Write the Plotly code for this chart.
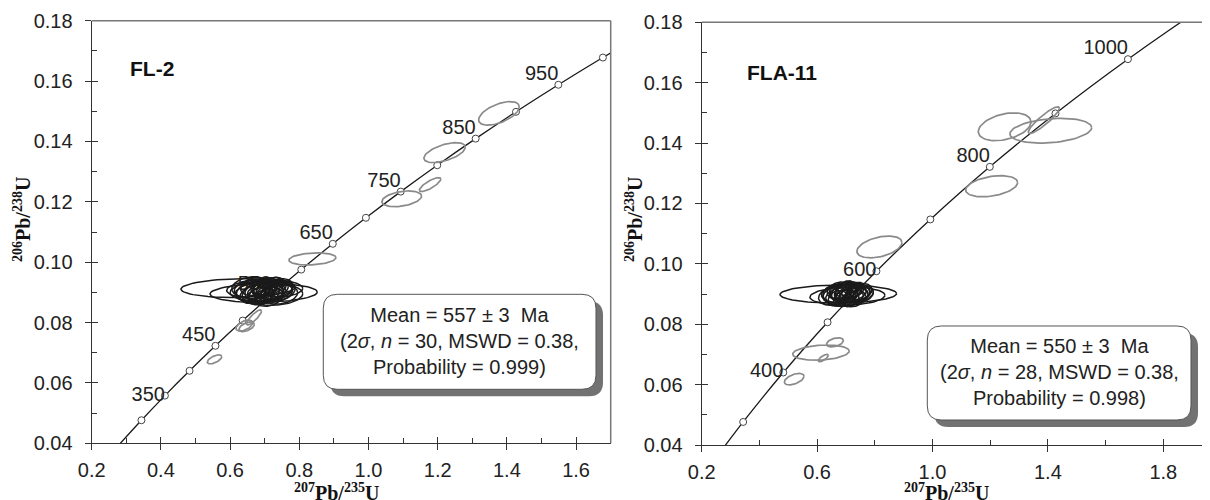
import numpy as np
import plotly.graph_objects as go

# page body adds an 8px offset; figure sized to fit the 1210x500 window
OFF = 8
W, H = 1210 - OFF, 500 - OFF

# ---------------- data ----------------
# Concordia reference points (age Ma, 207Pb/235U, 206Pb/238U)
CONC_AGE = [250, 300, 350, 400, 450, 500, 550, 600, 650, 700, 750, 800, 850, 900, 950, 1000, 1050, 1100]
CONC_X = [0.27917, 0.34374, 0.41156, 0.48281, 0.55766, 0.63628, 0.71888, 0.80563, 0.89677,
          0.99251, 1.09308, 1.19873, 1.30971, 1.42630, 1.54876, 1.67741, 1.81255, 1.95452]
CONC_Y = [0.039543, 0.047637, 0.055795, 0.064016, 0.072300, 0.080650, 0.089064, 0.097544, 0.106090,
          0.114702, 0.123381, 0.132126, 0.140940, 0.149821, 0.158771, 0.167790, 0.176879, 0.186038]

FL2_MARK_AGES = [300, 350, 400, 450, 500, 550, 600, 650, 700, 750, 800, 850, 900, 950, 1000]
FL2_LABEL_AGES = [350, 450, 550, 650, 750, 850, 950]
FLA11_MARK_AGES = [300, 400, 500, 600, 700, 800, 900, 1000]
FLA11_LABEL_AGES = [400, 600, 800, 1000]

# FL-2 concordant analyses (black): x, 2s x, y, 2s y, rho
FL2_X = [0.623, 0.697, 0.690, 0.672, 0.705, 0.715, 0.680, 0.728, 0.660, 0.742, 0.698, 0.688, 0.720, 0.655, 0.735,
         0.705, 0.675, 0.750, 0.712, 0.665, 0.695, 0.725, 0.685, 0.730, 0.700, 0.745, 0.670, 0.708, 0.740, 0.690]
FL2_SX = [0.165, 0.155, 0.090, 0.060, 0.055, 0.048, 0.045, 0.052, 0.042, 0.040, 0.038, 0.036, 0.035, 0.050, 0.045,
          0.030, 0.032, 0.038, 0.042, 0.036, 0.028, 0.030, 0.070, 0.080, 0.110, 0.050, 0.040, 0.034, 0.028, 0.025]
FL2_Y = [0.0914, 0.0898, 0.0905, 0.0912, 0.0900, 0.0918, 0.0894, 0.0908, 0.0902, 0.0915, 0.0920, 0.0888, 0.0893, 0.0918, 0.0900,
         0.0910, 0.0906, 0.0905, 0.0885, 0.0893, 0.0915, 0.0922, 0.0900, 0.0891, 0.0910, 0.0893, 0.0920, 0.0895, 0.0912, 0.0910]
FL2_SY = [0.0031, 0.0031, 0.0033, 0.0032, 0.0034, 0.0031, 0.0033, 0.0032, 0.0031, 0.0030, 0.0029, 0.0030, 0.0029, 0.0033, 0.0031,
          0.0028, 0.0029, 0.0030, 0.0031, 0.0030, 0.0027, 0.0028, 0.0034, 0.0034, 0.0032, 0.0032, 0.0030, 0.0029, 0.0027, 0.0026]
FL2_RHO = [0.10, 0.10, 0.15, 0.20, 0.20, 0.25, 0.20, 0.20, 0.25, 0.25, 0.30, 0.25, 0.30, 0.20, 0.20,
           0.30, 0.30, 0.25, 0.25, 0.25, 0.35, 0.30, 0.15, 0.15, 0.10, 0.20, 0.25, 0.30, 0.30, 0.35]

# FL-2 discordant / excluded analyses (grey)
FL2G_X = [1.377, 1.220, 1.178, 1.096, 0.838, 0.669, 0.641, 0.648, 0.555]
FL2G_SX = [0.0587, 0.0598, 0.031, 0.0573, 0.068, 0.0217, 0.024, 0.022, 0.0208]
FL2G_Y = [0.1493, 0.1363, 0.1257, 0.1210, 0.1011, 0.0817, 0.0790, 0.0786, 0.0678]
FL2G_SY = [0.0039, 0.0033, 0.0023, 0.0026, 0.0020, 0.0025, 0.0018, 0.0016, 0.0015]
FL2G_RHO = [0.55, 0.55, 0.80, 0.35, 0.20, 0.85, 0.50, 0.50, 0.60]

# FLA-11 concordant analyses (black)
FLA_X = [0.6735, 0.705, 0.700, 0.680, 0.715, 0.690, 0.725, 0.665, 0.740, 0.705, 0.695, 0.720, 0.675, 0.710,
         0.685, 0.730, 0.655, 0.750, 0.700, 0.715, 0.670, 0.735, 0.695, 0.720, 0.690, 0.745, 0.708, 0.760]
FLA_SX = [0.202, 0.130, 0.085, 0.060, 0.055, 0.048, 0.050, 0.045, 0.042, 0.040, 0.038, 0.035, 0.040, 0.032,
          0.035, 0.038, 0.050, 0.040, 0.028, 0.030, 0.032, 0.028, 0.065, 0.075, 0.026, 0.032, 0.045, 0.035]
FLA_Y = [0.0900, 0.0893, 0.0902, 0.0897, 0.0905, 0.0910, 0.0893, 0.0903, 0.0900, 0.0915, 0.0886, 0.0912, 0.0912, 0.0896,
         0.0905, 0.0885, 0.0893, 0.0908, 0.0920, 0.0883, 0.0886, 0.0915, 0.0891, 0.0902, 0.0895, 0.0893, 0.0908, 0.0900]
FLA_SY = [0.0030, 0.0030, 0.0032, 0.0031, 0.0030, 0.0029, 0.0030, 0.0030, 0.0028, 0.0027, 0.0027, 0.0026, 0.0028, 0.0025,
          0.0026, 0.0027, 0.0030, 0.0027, 0.0024, 0.0025, 0.0026, 0.0024, 0.0032, 0.0032, 0.0023, 0.0025, 0.0028, 0.0026]
FLA_RHO = [0.05, 0.10, 0.15, 0.20, 0.20, 0.25, 0.20, 0.20, 0.25, 0.25, 0.25, 0.30, 0.25, 0.30,
           0.30, 0.25, 0.20, 0.25, 0.30, 0.30, 0.30, 0.30, 0.15, 0.15, 0.35, 0.30, 0.20, 0.25]

# FLA-11 grey analyses
FLAG_X = [1.250, 1.410, 1.386, 1.205, 0.816, 0.6135, 0.662, 0.6215, 0.5206]
FLAG_SX = [0.0913, 0.1416, 0.0537, 0.090, 0.078, 0.098, 0.029, 0.0173, 0.034]
FLAG_Y = [0.1454, 0.1441, 0.1476, 0.1257, 0.1056, 0.0706, 0.0740, 0.0688, 0.0618]
FLAG_SY = [0.0046, 0.0041, 0.0044, 0.0035, 0.0036, 0.0025, 0.0015, 0.0012, 0.0019]
FLAG_RHO = [0.35, 0.25, 0.90, 0.35, 0.40, 0.20, 0.40, 0.70, 0.50]

PANEL_NAMES = ["FL-2", "FLA-11"]
BOX_TEXT = [
    "Mean = 557 ± 3  Ma<br>(2<i>σ</i>, <i>n</i> = 30, MSWD = 0.38,<br>Probability = 0.999)",
    "Mean = 550 ± 3  Ma<br>(2<i>σ</i>, <i>n</i> = 28, MSWD = 0.38,<br>Probability = 0.998)",
]
Y_TITLE = "<b><sup>206</sup>Pb/<sup>238</sup>U</b>"
X_TITLE = "<b><sup>207</sup>Pb/<sup>235</sup>U</b>"

# label placement style (per label)
FL2_LABEL_POS = ["middle left", "top left", "top left", "top left", "top left", "top left", "top left"]
FLA11_LABEL_POS = ["middle left", "middle left", "top left", "top left"]

# ---------------- helpers ----------------
def ellipse_paths(xs, sxs, ys, sys_, rhos, n=72):
    t = np.linspace(0, 2 * np.pi, n)
    ox, oy = [], []
    for cx, sx, cy, sy, r in zip(xs, sxs, ys, sys_, rhos):
        ex = cx + sx * np.cos(t)
        ey = cy + sy * (r * np.cos(t) + np.sqrt(1 - r * r) * np.sin(t))
        ox += list(ex) + [None]
        oy += list(ey) + [None]
    return ox, oy


def pick(ages):
    idx = [CONC_AGE.index(a) for a in ages]
    return [CONC_X[i] for i in idx], [CONC_Y[i] for i in idx]


def P(px, py):
    """screen pixel -> paper fraction"""
    return (px - OFF) / W, 1 - (py - OFF) / H


def rounded_path(x0, y0, x1, y1, r):
    pts = [
        ("M", [(x0 + r, y0)]), ("L", [(x1 - r, y0)]), ("Q", [(x1, y0), (x1, y0 + r)]),
        ("L", [(x1, y1 - r)]), ("Q", [(x1, y1), (x1 - r, y1)]), ("L", [(x0 + r, y1)]),
        ("Q", [(x0, y1), (x0, y1 - r)]), ("L", [(x0, y0 + r)]), ("Q", [(x0, y0), (x0 + r, y0)]),
    ]
    s = ""
    for cmd, ps in pts:
        s += cmd + " " + " ".join("%.5f,%.5f" % P(a, b) for a, b in ps) + " "
    return s + "Z"


SANS = "Liberation Sans, Arial, sans-serif"
TICKFONT = dict(family=SANS, size=20, color="#222")
BLACK = "#1a1a1a"
GREY = "#8a8a8a"

fig = go.Figure()

panels = [
    dict(xa="x", ya="y", mark=FL2_MARK_AGES, lab=FL2_LABEL_AGES, lpos=FL2_LABEL_POS,
         blk=(FL2_X, FL2_SX, FL2_Y, FL2_SY, FL2_RHO), gry=(FL2G_X, FL2G_SX, FL2G_Y, FL2G_SY, FL2G_RHO)),
    dict(xa="x2", ya="y2", mark=FLA11_MARK_AGES, lab=FLA11_LABEL_AGES, lpos=FLA11_LABEL_POS,
         blk=(FLA_X, FLA_SX, FLA_Y, FLA_SY, FLA_RHO), gry=(FLAG_X, FLAG_SX, FLAG_Y, FLAG_SY, FLAG_RHO)),
]

for p in panels:
    fig.add_trace(go.Scatter(x=CONC_X, y=CONC_Y, mode="lines", line=dict(color=BLACK, width=1.3, shape="spline"),
                             xaxis=p["xa"], yaxis=p["ya"], showlegend=False, hoverinfo="skip"))
    mx, my = pick(p["mark"])
    fig.add_trace(go.Scatter(x=mx, y=my, mode="markers",
                             marker=dict(symbol="circle", size=7, color="white", line=dict(color="#444", width=1)),
                             xaxis=p["xa"], yaxis=p["ya"], showlegend=False, hoverinfo="skip"))
    lx, ly = pick(p["lab"])
    fig.add_trace(go.Scatter(x=lx, y=ly, mode="text", text=[str(a) for a in p["lab"]], textposition=p["lpos"],
                             textfont=dict(family=SANS, size=20, color="#222"),
                             xaxis=p["xa"], yaxis=p["ya"], showlegend=False, hoverinfo="skip"))
    gx, gy = ellipse_paths(*p["gry"])
    fig.add_trace(go.Scatter(x=gx, y=gy, mode="lines", line=dict(color=GREY, width=1.7),
                             xaxis=p["xa"], yaxis=p["ya"], showlegend=False, hoverinfo="skip"))
    bx, by = ellipse_paths(*p["blk"])
    fig.add_trace(go.Scatter(x=bx, y=by, mode="lines", line=dict(color=BLACK, width=1.5),
                             xaxis=p["xa"], yaxis=p["ya"], showlegend=False, hoverinfo="skip"))

# empty traces for overlay (inner tick) axes
fig.add_trace(go.Scatter(x=[None], y=[None], xaxis="x3", yaxis="y3", showlegend=False, hoverinfo="skip"))
fig.add_trace(go.Scatter(x=[None], y=[None], xaxis="x4", yaxis="y4", showlegend=False, hoverinfo="skip"))

lx0, ly0 = P(91.7, 443.3)
lx1, ly1 = P(610.7, 20.7)
rx0, ry0 = P(701.7, 445.0)
rx1, ry1 = P(1210.0, 22.3)
L_DOM_X, L_DOM_Y = [lx0, lx1], [ly0, ly1]
R_DOM_X, R_DOM_Y = [rx0, min(rx1, 1.0)], [ry0, ry1]
L_RANGE_X = [0.2, 1.7]
R_RANGE_X = [0.2, 0.2 + (1210 - 701.7) / 288.5]
RANGE_Y = [0.04, 0.18]

def base_axis(**kw):
    d = dict(showline=True, linecolor="#333", linewidth=1.2, ticks="outside", ticklen=6, tickwidth=1.2,
             tickcolor="#333", showgrid=False, zeroline=False, tickfont=TICKFONT, ticklabelstandoff=3,
             automargin=False)
    d.update(kw)
    return d

def inner_axis(**kw):
    d = dict(showline=False, ticks="inside", ticklen=6, tickwidth=1.2, tickcolor="#333", showgrid=False,
             zeroline=False, showticklabels=False, automargin=False)
    d.update(kw)
    return d

MINX = lambda dt: dict(ticks="inside", dtick=dt, ticklen=5, tickwidth=1.2, tickcolor="#333")

fig.update_layout(
    width=W, height=H, autosize=False, margin=dict(l=0, r=0, t=0, b=0, pad=0),
    paper_bgcolor="white", plot_bgcolor="white", showlegend=False,
    xaxis=base_axis(domain=L_DOM_X, range=L_RANGE_X, anchor="y", tick0=0.2, dtick=0.2, tickformat=".1f",
                    minor=MINX(0.1)),
    yaxis=base_axis(domain=L_DOM_Y, range=RANGE_Y, anchor="x", tick0=0.04, dtick=0.02, tickformat=".2f",
                    minor=MINX(0.01), ticklabelstandoff=8),
    xaxis2=base_axis(domain=R_DOM_X, range=R_RANGE_X, anchor="y2", tick0=0.2, dtick=0.4, tickformat=".1f",
                     minor=MINX(0.2)),
    yaxis2=base_axis(domain=R_DOM_Y, range=RANGE_Y, anchor="x2", tick0=0.04, dtick=0.02, tickformat=".2f",
                     minor=MINX(0.01), ticklabelstandoff=8),
    xaxis3=inner_axis(overlaying="x", anchor="y", range=L_RANGE_X, tick0=0.2, dtick=0.2),
    yaxis3=inner_axis(overlaying="y", anchor="x", range=RANGE_Y, tick0=0.04, dtick=0.02),
    xaxis4=inner_axis(overlaying="x2", anchor="y2", range=R_RANGE_X, tick0=0.2, dtick=0.4),
    yaxis4=inner_axis(overlaying="y2", anchor="x2", range=RANGE_Y, tick0=0.04, dtick=0.02),
)

shapes = []
# top/right frame lines
shapes.append(dict(type="line", xref="x domain", yref="y domain", x0=0, x1=1, y0=1, y1=1,
                   line=dict(color="#777", width=1.5)))
shapes.append(dict(type="line", xref="x domain", yref="y domain", x0=1, x1=1, y0=0, y1=1,
                   line=dict(color="#777", width=1.5)))
shapes.append(dict(type="line", xref="x2 domain", yref="y2 domain", x0=0, x1=1, y0=1, y1=1,
                   line=dict(color="#777", width=1.5)))

# result boxes (screen pixel geometry)
BOXES = [(323.3, 294.3, 596.0, 389.3), (927.3, 326.0, 1191.0, 420.0)]
for (x0, y0, x1, y1) in BOXES:
    shapes.append(dict(type="path", xref="paper", yref="paper", path=rounded_path(x0 + 7, y0 + 7, x1 + 7, y1 + 7, 14),
                       fillcolor="#727272", line=dict(width=0), layer="above"))
    shapes.append(dict(type="path", xref="paper", yref="paper", path=rounded_path(x0, y0, x1, y1, 14),
                       fillcolor="white", line=dict(color="#555", width=1), layer="above"))
fig.update_layout(shapes=shapes)

ann = []
for (x0, y0, x1, y1), txt in zip(BOXES, BOX_TEXT):
    cx, cy = P((x0 + x1) / 2, (y0 + y1) / 2 - 1)
    ann.append(dict(x=cx, y=cy, xref="paper", yref="paper", text=txt, showarrow=False, align="center",
                    xanchor="center", yanchor="middle",
                    font=dict(family=SANS, size=20, color="#222")))

# panel names
for (px, py), name in zip([(152, 68), (782, 72)], PANEL_NAMES):
    x, y = P(px, py)
    ann.append(dict(x=x, y=y, xref="paper", yref="paper", text="<b>%s</b>" % name, showarrow=False,
                    xanchor="center", yanchor="middle",
                    font=dict(family=SANS, size=21, color="#111")))

# axis titles
for (px, py) in [(22, 220), (634, 220)]:
    x, y = P(px, py)
    ann.append(dict(x=x, y=y, xref="paper", yref="paper", text=Y_TITLE, showarrow=False, textangle=-90,
                    xanchor="center", yanchor="middle",
                    font=dict(family="Liberation Serif, Times New Roman, serif", size=20, color="#111")))
for (px, py) in [(336, 492), (946, 492)]:
    x, y = P(px, py)
    ann.append(dict(x=x, y=y, xref="paper", yref="paper", text=X_TITLE, showarrow=False,
                    xanchor="center", yanchor="middle",
                    font=dict(family="Liberation Serif, Times New Roman, serif", size=20, color="#111")))
fig.update_layout(annotations=ann)

fig.write_html("out.html")
